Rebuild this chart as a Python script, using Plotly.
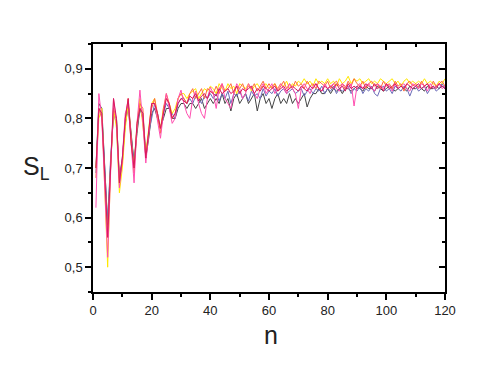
import plotly.graph_objects as go

n = list(range(1, 121))

s_black = [
    0.70, 0.83, 0.82, 0.71, 0.585, 0.71, 0.81, 0.80, 0.68, 0.72,
    0.79, 0.83, 0.77, 0.71, 0.77, 0.82, 0.80, 0.72, 0.76, 0.81,
    0.82, 0.80, 0.78, 0.80, 0.82, 0.82, 0.80, 0.80, 0.82, 0.83,
    0.83, 0.82, 0.83, 0.83, 0.82, 0.83, 0.84, 0.82, 0.83, 0.84,
    0.83, 0.84, 0.83, 0.85, 0.83, 0.84, 0.815, 0.84, 0.85, 0.83,
    0.84, 0.85, 0.83, 0.84, 0.85, 0.815, 0.84, 0.85, 0.83, 0.84,
    0.82, 0.84, 0.85, 0.83, 0.84, 0.83, 0.85, 0.83, 0.84, 0.83,
    0.84, 0.85, 0.823, 0.84, 0.85, 0.85, 0.86, 0.85, 0.85, 0.86,
    0.85, 0.86, 0.855, 0.86, 0.85, 0.86, 0.86, 0.855, 0.86, 0.865,
    0.86, 0.855, 0.865, 0.86, 0.86, 0.855, 0.865, 0.86, 0.855, 0.86,
    0.865, 0.86, 0.855, 0.86, 0.865, 0.86, 0.855, 0.865, 0.86, 0.86,
    0.865, 0.86, 0.855, 0.865, 0.86, 0.86, 0.865, 0.86, 0.865, 0.86,
]
s_blue = [
    0.69, 0.82, 0.81, 0.70, 0.59, 0.72, 0.81, 0.79, 0.67, 0.71,
    0.79, 0.82, 0.76, 0.71, 0.78, 0.82, 0.81, 0.73, 0.77, 0.80,
    0.83, 0.81, 0.78, 0.81, 0.83, 0.82, 0.81, 0.80, 0.83, 0.84,
    0.84, 0.83, 0.84, 0.83, 0.845, 0.84, 0.83, 0.845, 0.84, 0.85,
    0.84, 0.85, 0.835, 0.85, 0.84, 0.855, 0.83, 0.85, 0.845, 0.855,
    0.84, 0.85, 0.835, 0.855, 0.845, 0.85, 0.84, 0.86, 0.845, 0.855,
    0.85, 0.86, 0.845, 0.855, 0.86, 0.85, 0.855, 0.86, 0.85, 0.855,
    0.86, 0.845, 0.855, 0.86, 0.85, 0.86, 0.855, 0.865, 0.85, 0.86,
    0.855, 0.865, 0.85, 0.86, 0.855, 0.86, 0.865, 0.85, 0.86, 0.855,
    0.865, 0.85, 0.86, 0.855, 0.865, 0.85, 0.845, 0.86, 0.865, 0.855,
    0.86, 0.85, 0.865, 0.86, 0.855, 0.865, 0.86, 0.845, 0.86, 0.865,
    0.855, 0.86, 0.865, 0.85, 0.86, 0.865, 0.855, 0.86, 0.87, 0.86,
]
s_yellow = [
    0.70, 0.80, 0.82, 0.66, 0.50, 0.70, 0.82, 0.78, 0.65, 0.70,
    0.78, 0.83, 0.75, 0.70, 0.79, 0.84, 0.79, 0.73, 0.78, 0.83,
    0.84, 0.80, 0.78, 0.82, 0.84, 0.83, 0.81, 0.82, 0.84, 0.85,
    0.85, 0.84, 0.85, 0.855, 0.86, 0.84, 0.85, 0.86, 0.855, 0.865,
    0.86, 0.85, 0.87, 0.86, 0.855, 0.87, 0.86, 0.865, 0.85, 0.87,
    0.865, 0.86, 0.87, 0.855, 0.865, 0.87, 0.86, 0.865, 0.87, 0.86,
    0.865, 0.87, 0.86, 0.87, 0.865, 0.875, 0.86, 0.87, 0.865, 0.875,
    0.87, 0.88, 0.87, 0.875, 0.865, 0.88, 0.87, 0.875, 0.87, 0.88,
    0.87, 0.875, 0.865, 0.88, 0.87, 0.875, 0.885, 0.87, 0.88, 0.875,
    0.88, 0.87, 0.875, 0.88, 0.87, 0.875, 0.87, 0.88, 0.875, 0.87,
    0.875, 0.88, 0.87, 0.875, 0.865, 0.875, 0.88, 0.87, 0.875, 0.87,
    0.875, 0.87, 0.88, 0.87, 0.875, 0.87, 0.865, 0.875, 0.87, 0.88,
]
s_orange = [
    0.68, 0.82, 0.80, 0.68, 0.57, 0.70, 0.82, 0.80, 0.68, 0.71,
    0.80, 0.84, 0.76, 0.69, 0.78, 0.83, 0.82, 0.72, 0.77, 0.82,
    0.84, 0.81, 0.77, 0.82, 0.85, 0.83, 0.80, 0.81, 0.84, 0.85,
    0.84, 0.83, 0.85, 0.86, 0.84, 0.85, 0.86, 0.84, 0.86, 0.855,
    0.85, 0.865, 0.85, 0.87, 0.855, 0.86, 0.87, 0.85, 0.865, 0.86,
    0.87, 0.855, 0.865, 0.86, 0.87, 0.855, 0.865, 0.875, 0.86, 0.87,
    0.86, 0.87, 0.855, 0.865, 0.875, 0.86, 0.87, 0.86, 0.875, 0.865,
    0.87, 0.86, 0.875, 0.865, 0.87, 0.86, 0.875, 0.87, 0.865, 0.875,
    0.86, 0.87, 0.875, 0.865, 0.87, 0.86, 0.875, 0.865, 0.88, 0.87,
    0.865, 0.875, 0.86, 0.87, 0.875, 0.865, 0.87, 0.86, 0.875, 0.865,
    0.87, 0.86, 0.875, 0.865, 0.87, 0.855, 0.87, 0.875, 0.865, 0.87,
    0.86, 0.875, 0.865, 0.87, 0.86, 0.875, 0.865, 0.87, 0.875, 0.865,
]
s_pink = [
    0.62, 0.85, 0.80, 0.64, 0.52, 0.69, 0.84, 0.79, 0.66, 0.72,
    0.81, 0.83, 0.75, 0.67, 0.79, 0.857, 0.79, 0.71, 0.77, 0.83,
    0.83, 0.79, 0.76, 0.81, 0.85, 0.82, 0.79, 0.80, 0.84, 0.857,
    0.83, 0.81, 0.80, 0.84, 0.855, 0.83, 0.81, 0.80, 0.84, 0.863,
    0.85, 0.82, 0.86, 0.87, 0.84, 0.83, 0.82, 0.85, 0.87, 0.86,
    0.84, 0.85, 0.87, 0.86, 0.85, 0.84, 0.86, 0.87, 0.85, 0.86,
    0.87, 0.85, 0.86, 0.87, 0.86, 0.85, 0.87, 0.86, 0.85, 0.82,
    0.86, 0.87, 0.86, 0.85, 0.865, 0.87, 0.86, 0.855, 0.87, 0.86,
    0.865, 0.87, 0.86, 0.855, 0.87, 0.865, 0.86, 0.87, 0.825, 0.865,
    0.87, 0.86, 0.865, 0.87, 0.86, 0.855, 0.87, 0.865, 0.86, 0.87,
    0.865, 0.855, 0.87, 0.86, 0.865, 0.87, 0.86, 0.855, 0.87, 0.865,
    0.86, 0.87, 0.865, 0.855, 0.87, 0.86, 0.865, 0.87, 0.86, 0.865,
]
s_crimson = [
    0.70, 0.82, 0.81, 0.68, 0.56, 0.70, 0.84, 0.80, 0.67, 0.72,
    0.80, 0.84, 0.75, 0.70, 0.79, 0.82, 0.81, 0.72, 0.78, 0.83,
    0.83, 0.81, 0.78, 0.81, 0.84, 0.83, 0.80, 0.81, 0.83, 0.84,
    0.835, 0.83, 0.845, 0.84, 0.85, 0.835, 0.845, 0.85, 0.84, 0.855,
    0.85, 0.845, 0.86, 0.85, 0.855, 0.86, 0.85, 0.855, 0.865, 0.85,
    0.86, 0.855, 0.86, 0.865, 0.85, 0.86, 0.855, 0.865, 0.86, 0.855,
    0.86, 0.865, 0.855, 0.86, 0.865, 0.855, 0.86, 0.865, 0.86, 0.855,
    0.865, 0.86, 0.855, 0.865, 0.86, 0.87, 0.86, 0.855, 0.865, 0.86,
    0.865, 0.86, 0.87, 0.86, 0.865, 0.855, 0.87, 0.86, 0.865, 0.86,
    0.865, 0.86, 0.87, 0.865, 0.86, 0.87, 0.86, 0.865, 0.855, 0.87,
    0.86, 0.865, 0.87, 0.86, 0.865, 0.86, 0.87, 0.865, 0.86, 0.865,
    0.87, 0.86, 0.865, 0.87, 0.86, 0.865, 0.86, 0.87, 0.865, 0.86,
]

series = [
    (s_black, '#444444'),
    (s_blue, '#6b6bb8'),
    (s_yellow, '#ffe800'),
    (s_orange, '#ff6a3a'),
    (s_pink, '#ff4fb0'),
    (s_crimson, '#d8185e'),
]

fig = go.Figure()
for vals, col in series:
    fig.add_trace(go.Scatter(x=n, y=vals, mode='lines', line=dict(color=col, width=1), showlegend=False))

# invisible trace so the mirrored axes (inward ticks on top/right) get drawn
fig.add_trace(go.Scatter(x=[0], y=[0.5], xaxis='x2', yaxis='y2', mode='markers',
                         marker=dict(opacity=0), showlegend=False, hoverinfo='skip'))

font_family = 'Liberation Sans, Arial, sans-serif'
tick_font = dict(family=font_family, size=13, color='#222')
common = dict(showgrid=False, zeroline=False, showline=True, linecolor='black', linewidth=1.5,
              tickcolor='black', tickwidth=1.5, ticklen=6)

# page body has an 8px margin, so the figure is 8px smaller than the window
fig.update_layout(
    width=483, height=370,
    margin=dict(l=85, r=46, t=36, b=86),
    paper_bgcolor='white', plot_bgcolor='rgba(0,0,0,0)',
    separators=',.',
    xaxis=dict(range=[0, 120], dtick=20, ticks='outside', tickfont=tick_font,
               minor=dict(dtick=10, ticks='outside', ticklen=3, tickcolor='black', tickwidth=1.5),
               **common),
    yaxis=dict(range=[0.45, 0.95], dtick=0.1, tick0=0.5, tickformat='.1f', ticks='outside',
               tickfont=tick_font,
               minor=dict(dtick=0.05, ticks='outside', ticklen=3, tickcolor='black', tickwidth=1.5),
               **common),
    xaxis2=dict(range=[0, 120], dtick=20, overlaying='x', side='top', ticks='inside',
                showticklabels=False, anchor='y2',
                minor=dict(dtick=10, ticks='inside', ticklen=3, tickcolor='black', tickwidth=1.5),
                **common),
    yaxis2=dict(range=[0.45, 0.95], dtick=0.1, tick0=0.5, overlaying='y', side='right',
                ticks='inside', showticklabels=False, anchor='x2',
                minor=dict(dtick=0.05, ticks='inside', ticklen=3, tickcolor='black', tickwidth=1.5),
                **common),
)

# titles placed in plot-area pixel terms (plot area spans 352 x 248 px)
w_plot, h_plot = 352, 248
fig.add_annotation(text='S<sub>L</sub>', xref='paper', yref='paper', showarrow=False,
                   x=(36 - 93) / w_plot, y=(292 - 168) / h_plot,
                   xanchor='center', yanchor='middle',
                   font=dict(family=font_family, size=25, color='#222'))
fig.add_annotation(text='n', xref='paper', yref='paper', showarrow=False,
                   x=(271 - 93) / w_plot, y=(292 - 335) / h_plot,
                   xanchor='center', yanchor='middle',
                   font=dict(family=font_family, size=25, color='#222'))

fig.write_html('out.html')
